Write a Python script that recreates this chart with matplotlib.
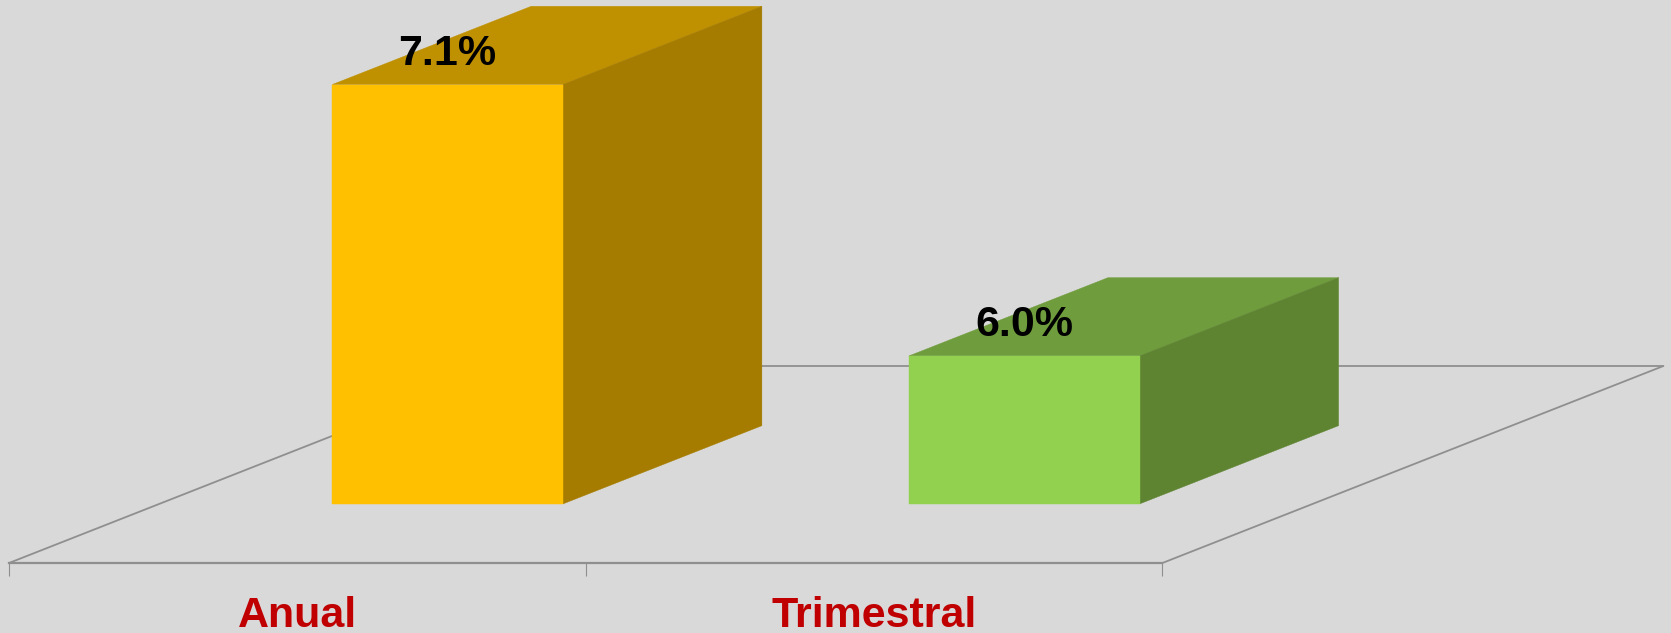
import matplotlib
matplotlib.use("Agg")
import matplotlib.pyplot as plt
from matplotlib.patches import Polygon

# Data
categories = ["Anual", "Trimestral"]
values = [7.1, 6.0]
value_labels = ["7.1%", "6.0%"]
axis_base = 5.4

# Colours per bar: front, top, side
front_colors = ["#FFC000", "#92D050"]
top_colors = ["#BF9000", "#6F9C3C"]
side_colors = ["#A57C00", "#5E8431"]
bg = "#D9D9D9"
line_color = "#8F8F8F"
label_red = "#C00000"

# Chart geometry (pixels of the figure)
W, H = 1671, 633
x0_px, y0_px = 9.0, 563.0
cat_px = 576.7
val_px = 246.7
floor_dx_px, floor_dy_px = 501.0, 197.0

# Oblique depth vector for the full floor depth, in data units
depth_dx = floor_dx_px / cat_px
depth_dy = floor_dy_px / val_px
bar_width = 0.4
bar_depth_start = 0.3
bar_depth_size = 0.397

plt.rcParams["font.family"] = ["Liberation Sans", "DejaVu Sans"]
fig = plt.figure(figsize=(W / 100, H / 100), dpi=100, facecolor=bg)
ax = fig.add_axes([0, 0, 1, 1], facecolor=bg)
ax.set_xlim(-x0_px / cat_px, (W - x0_px) / cat_px)
ax.set_ylim(axis_base - (H - y0_px) / val_px, axis_base + y0_px / val_px)


def oblique(x, v, d):
    """Project category position x, value v, depth fraction d."""
    return (x + d * depth_dx, v + d * depth_dy)


n = len(categories)

# Floor outline (the front edge is the axis spine)
floor_kw = dict(color=line_color, lw=1.3, zorder=1, solid_capstyle="round")
for start, end in [((0, axis_base, 0), (0, axis_base, 1)),
                   ((n, axis_base, 0), (n, axis_base, 1)),
                   ((0, axis_base, 1), (n, axis_base, 1))]:
    a, b = oblique(*start), oblique(*end)
    ax.plot([a[0], b[0]], [a[1], b[1]], **floor_kw)

# Bars as oblique boxes
for i, val in enumerate(values):
    xc = i + 0.5
    xl, xr = xc - bar_width / 2, xc + bar_width / 2
    d0, d1 = bar_depth_start, bar_depth_start + bar_depth_size
    front = [oblique(xl, axis_base, d0), oblique(xr, axis_base, d0),
             oblique(xr, val, d0), oblique(xl, val, d0)]
    side = [oblique(xr, axis_base, d0), oblique(xr, axis_base, d1),
            oblique(xr, val, d1), oblique(xr, val, d0)]
    top = [oblique(xl, val, d0), oblique(xr, val, d0),
           oblique(xr, val, d1), oblique(xl, val, d1)]
    ax.add_patch(Polygon(top, closed=True, fc=top_colors[i], ec=top_colors[i], lw=0.3, zorder=3))
    ax.add_patch(Polygon(side, closed=True, fc=side_colors[i], ec=side_colors[i], lw=0.3, zorder=3))
    ax.add_patch(Polygon(front, closed=True, fc=front_colors[i], ec=front_colors[i], lw=0.3, zorder=4))
    tx, ty = oblique(xc, val, d0)
    ax.annotate(value_labels[i], (tx, ty), xytext=(0, 14.4), textcoords="offset points",
                ha="center", va="baseline", fontsize=31, fontweight="bold",
                color="black", zorder=6)

# Axis: spine on the floor's front edge, real ticks and labels
for s in ["top", "left", "right"]:
    ax.spines[s].set_visible(False)
ax.spines["bottom"].set_position(("data", axis_base))
ax.spines["bottom"].set_bounds(0, n)
ax.spines["bottom"].set_color(line_color)
ax.spines["bottom"].set_linewidth(1.6)
ax.set_yticks([])
ax.set_xticks(range(n + 1))
ax.set_xticklabels([""] * (n + 1))
ax.tick_params(axis="x", which="major", length=9.4, width=0.8, color=line_color, direction="out")
ax.set_xticks([i + 0.5 for i in range(n)], minor=True)
ax.set_xticklabels(categories, minor=True, fontsize=31, fontweight="bold", color=label_red)
ax.tick_params(axis="x", which="minor", length=0, pad=23.5)

fig.savefig("out.png", dpi=100, facecolor=bg)
